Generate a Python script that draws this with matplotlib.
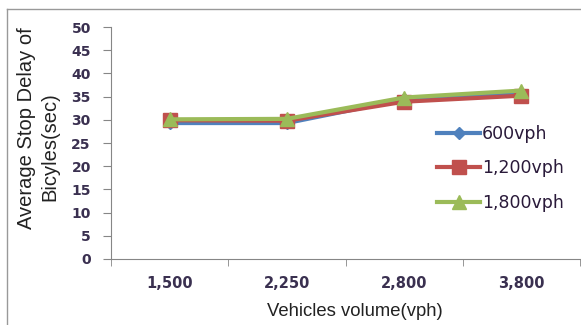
import numpy as np
import matplotlib
matplotlib.use("Agg")
import matplotlib.pyplot as plt
from matplotlib.lines import Line2D
from matplotlib import font_manager

# data
volumes = ["1,500", "2,250", "2,800", "3,800"]
delay_600 = [29.3, 29.3, 34.4, 35.5]
delay_1200 = [29.9, 29.8, 33.9, 35.2]
delay_1800 = [30.1, 30.2, 34.8, 36.3]

W, H = 581, 325
fig = plt.figure(figsize=(W / 100, H / 100), dpi=100)
ax = fig.add_axes([111 / W, 1 - 259 / H, 469 / W, 232 / H])

x = np.arange(len(volumes))
ax.plot(x, delay_600, color="#4F81BD", lw=3, marker="D", ms=6.5, label="600vph")
ax.plot(x, delay_1200, color="#C0504D", lw=3, marker="s", ms=9.5, label="1,200vph")
ax.plot(x, delay_1800, color="#9BBB59", lw=3, marker="^", ms=10, label="1,800vph")

ax.set_xlim(-0.5, len(volumes) - 0.5)
ax.set_ylim(0, 50)
ax.set_yticks(np.arange(0, 51, 5))
ax.set_xticks(x)
ax.set_xticklabels(volumes)
ax.set_xticks(np.arange(-0.5, len(volumes)), minor=True)
ax.tick_params(axis="x", which="major", length=0, pad=12)
ax.tick_params(axis="x", which="minor", length=5, color="#868686")
ax.tick_params(axis="y", length=6, color="#868686", pad=8.5)
for lab in ax.get_xticklabels():
    lab.set_fontsize(10.5)
    lab.set_fontweight("bold")
    lab.set_color("#3a3050")
for lab in ax.get_yticklabels():
    lab.set_fontsize(10)
    lab.set_fontweight("bold")
    lab.set_color("#3a3050")

for s in ["top", "right"]:
    ax.spines[s].set_visible(False)
ax.spines["left"].set_color("#868686")
ax.spines["bottom"].set_color("#868686")

# axis titles: a narrow sans face if available, else a smaller regular one
try:
    font_manager.findfont("Liberation Sans Narrow", fallback_to_default=False)
    fam, k = "Liberation Sans Narrow", 1 / 0.82
except ValueError:
    fam, k = "Liberation Sans", 1.0

fig.text(355 / W, 1 - 312 / H, "Vehicles volume(vph)", family=fam, fontsize=13.3 * k,
         color="#222222", ha="center", va="center")
fig.text(27 / W, 1 - 128 / H, "Average Stop Delay of", family=fam, fontsize=14.5 * k,
         color="#222222", ha="center", va="center", rotation=90)
fig.text(50 / W, 1 - 147 / H, "Bicyles(sec)", family=fam, fontsize=14.5 * k,
         color="#222222", ha="center", va="center", rotation=90)

leg = ax.legend(loc="upper left", bbox_to_anchor=((437 - 111) / 469, (259 - 125) / 232),
                frameon=False, fontsize=12.5, handlelength=2.5, handletextpad=0.1,
                labelspacing=0.95, borderaxespad=0, borderpad=0)
for t in leg.get_texts():
    t.set_color("#2a1a3a")

# outer chart frame
fig.add_artist(Line2D([7 / W, 7 / W], [0, 1 - 9 / H], color="#999999", lw=1))
fig.add_artist(Line2D([7 / W, 1], [1 - 9 / H, 1 - 9 / H], color="#999999", lw=1))

fig.savefig("out.png", dpi=100)
